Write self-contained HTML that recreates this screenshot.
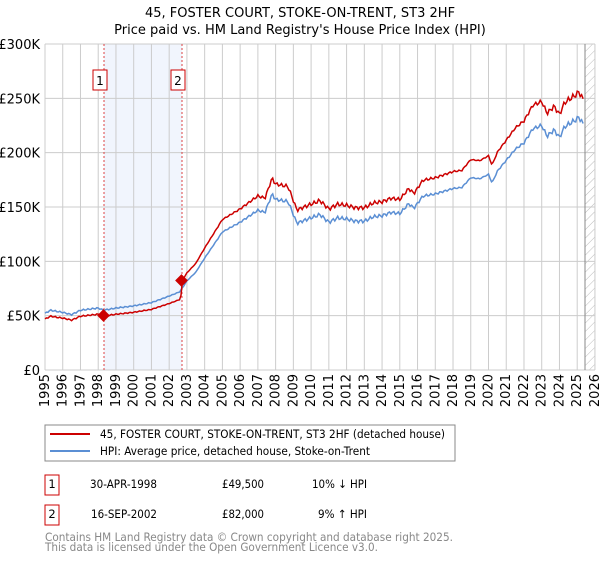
<!DOCTYPE html>
<html><head><meta charset="utf-8"><style>
body{margin:0;background:#fff;font-family:"Liberation Sans","DejaVu Sans",sans-serif;}
svg text{font-family:"DejaVu Sans","Liberation Sans",sans-serif;}
</style></head><body>
<svg id="s" width="600" height="560" viewBox="0 0 600 560" xmlns="http://www.w3.org/2000/svg">
<defs><pattern id="h" width="6" height="6" patternUnits="userSpaceOnUse" patternTransform="rotate(45)"><line x1="0" y1="0" x2="0" y2="6" stroke="#bbb" stroke-width="1"/></pattern></defs>
<text x="300" y="17" text-anchor="middle" font-size="13">45, FOSTER COURT, STOKE-ON-TRENT, ST3 2HF</text>
<text x="300" y="34" text-anchor="middle" font-size="13">Price paid vs. HM Land Registry's House Price Index (HPI)</text>
<rect x="104" y="44" width="78" height="326" fill="#eef3fc" opacity="0.8"/>
<rect x="585" y="44" width="10" height="326" fill="url(#h)"/>
<g id="grid" stroke="#ccc" stroke-width="1"></g>
<line x1="585" y1="44" x2="585" y2="370" stroke="#888"/>
<line x1="104" y1="44" x2="104" y2="370" stroke="#d44" stroke-dasharray="2,2" stroke-width="1"/>
<line x1="182" y1="44" x2="182" y2="370" stroke="#d44" stroke-dasharray="2,2" stroke-width="1"/>
<g id="lbl" font-size="13"></g>
<rect x="93" y="70" width="14" height="20" fill="#fff" stroke="#c00"/><text x="100" y="85" text-anchor="middle" font-size="12">1</text>
<rect x="171" y="70" width="14" height="20" fill="#fff" stroke="#c00"/><text x="178" y="85" text-anchor="middle" font-size="12">2</text>
<polyline id="blue" fill="none" stroke="#5b8fd4" stroke-width="1.5"/>
<polyline id="red" fill="none" stroke="#cc0000" stroke-width="1.5"/>
<rect x="99" y="311" width="9" height="9" fill="#cc0000" transform="rotate(45 103.5 315.5)"/>
<rect x="177" y="276" width="9" height="9" fill="#cc0000" transform="rotate(45 181.5 280.5)"/>
<rect x="45" y="425" width="410" height="36" fill="#fff" stroke="#888"/>
<line x1="50" y1="434" x2="90" y2="434" stroke="#cc0000" stroke-width="2"/>
<line x1="50" y1="451" x2="90" y2="451" stroke="#5b8fd4" stroke-width="2"/>
<text x="100" y="438" font-size="11.5" textLength="345" lengthAdjust="spacingAndGlyphs">45, FOSTER COURT, STOKE-ON-TRENT, ST3 2HF (detached house)</text>
<text x="100" y="455" font-size="11.5" textLength="270" lengthAdjust="spacingAndGlyphs">HPI: Average price, detached house, Stoke-on-Trent</text>
<rect x="45" y="475" width="14" height="20" fill="#fff" stroke="#c00"/><text x="52" y="488" text-anchor="middle" font-size="11.5">1</text>
<rect x="45" y="505" width="14" height="20" fill="#fff" stroke="#c00"/><text x="52" y="518" text-anchor="middle" font-size="11.5">2</text>
<text x="90" y="488" font-size="11.5" textLength="67" lengthAdjust="spacingAndGlyphs">30-APR-1998</text><text x="222" y="488" font-size="11.5" textLength="42" lengthAdjust="spacingAndGlyphs">£49,500</text><text x="312" y="488" font-size="11.5" textLength="55" lengthAdjust="spacingAndGlyphs">10% ↓ HPI</text>
<text x="91" y="518" font-size="11.5" textLength="66" lengthAdjust="spacingAndGlyphs">16-SEP-2002</text><text x="222" y="518" font-size="11.5" textLength="42" lengthAdjust="spacingAndGlyphs">£82,000</text><text x="318" y="518" font-size="11.5" textLength="49" lengthAdjust="spacingAndGlyphs">9% ↑ HPI</text>
<text x="45" y="541" font-size="11.5" fill="#888" textLength="408" lengthAdjust="spacingAndGlyphs">Contains HM Land Registry data © Crown copyright and database right 2025.</text>
<text x="45" y="551" font-size="11.5" fill="#888" textLength="333" lengthAdjust="spacingAndGlyphs">This data is licensed under the Open Government Licence v3.0.</text>
</svg>
<script>
var X=function(t){return 45+(t-1995)*17.74},Y=function(v){return 370-v*326/300000};
var g=document.getElementById('grid'),l=document.getElementById('lbl'),ns='http://www.w3.org/2000/svg';
function el(p,n,a,t){var e=document.createElementNS(ns,n);for(var k in a)e.setAttribute(k,a[k]);if(t)e.textContent=t;p.appendChild(e);}
for(var y=1995;y<=2026;y++){el(g,'line',{x1:X(y),y1:44,x2:X(y),y2:370});var xx=X(y)+4;el(l,'text',{x:xx,y:374,'text-anchor':'end',transform:'rotate(-90 '+xx+' 374)'},y);}
var labs=['£0','£50K','£100K','£150K','£200K','£250K','£300K'];
for(var i=0;i<=6;i++){el(g,'line',{x1:45,y1:Y(i*50000),x2:595,y2:Y(i*50000)});el(l,'text',{x:40,y:Y(i*50000)+5,'text-anchor':'end'},labs[i]);}
var k=[[1995,52],[1995.3,55],[1996,53],[1996.5,51],[1997,55],[1998,57],[1998.3,55],[1999,57],[2000,59],[2001,62],[2002,68],[2002.6,72],[2003,82],[2003.5,90],[2004,103],[2004.5,115],[2005,127],[2006,136],[2007,147],[2007.4,145],[2007.8,162],[2008,157],[2008.7,155],[2009.2,135],[2009.5,137],[2010,140],[2010.5,143],[2011,136],[2011.5,140],[2012,139],[2012.5,137],[2013,137],[2013.5,141],[2014,142],[2014.5,145],[2015,144],[2015.5,153],[2015.8,149],[2016.3,160],[2017,162],[2018,167],[2018.5,168],[2019,177],[2019.5,176],[2020,180],[2020.2,172],[2020.5,183],[2021,193],[2021.5,203],[2022,209],[2022.5,222],[2023,225],[2023.3,215],[2023.7,221],[2024,214],[2024.3,224],[2025,231],[2025.1,233],[2025.4,224]];
function hpi(t){for(var i=0;i<k.length-1;i++)if(t<=k[i+1][0]){var a=k[i],b=k[i+1],f=(t-a[0])/(b[0]-a[0]);return (a[1]+f*(b[1]-a[1]))*1000;}return k[k.length-1][1]*1000;}
var bp=[],rp=[];
for(var t=1995;t<=2025.41;t+=1/12){var n=1+0.007*Math.sin(t*23.7)+0.005*Math.sin(t*51.3);var v=hpi(t)*n;var r=t<2002.65?0.9:(t<2002.75?0.9+(t-2002.65)*1.9:1.09);if(t>2015)r=1.09+(t-2015)*0.001;bp.push(X(t).toFixed(1)+','+Y(v).toFixed(1));rp.push(X(t).toFixed(1)+','+Y(v*r).toFixed(1));}
document.getElementById('blue').setAttribute('points',bp.join(' '));
document.getElementById('red').setAttribute('points',rp.join(' '));
</script>
</body></html>
